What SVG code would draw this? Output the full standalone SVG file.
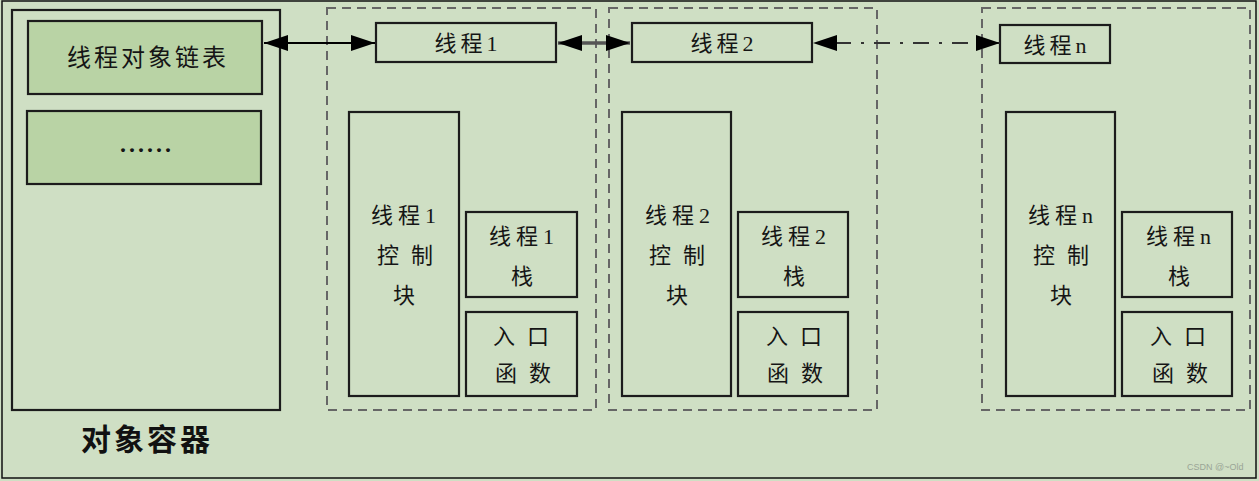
<svg xmlns="http://www.w3.org/2000/svg" width="1259" height="481" viewBox="0 0 1259 481">
<style>
.bg{fill:#CFDFC4}
.box{fill:none;stroke:#1c1c1c;stroke-width:2.2}
.gbox{fill:#B9D3A5;stroke:#1c1c1c;stroke-width:2.2}
.dash{fill:none;stroke:#666;stroke-width:2;stroke-dasharray:9 6}
.t{font-family:"Liberation Serif","Noto Sans CJK SC",serif;font-size:22px;fill:#151515;text-anchor:middle}
.tb{font-family:"Noto Sans CJK SC","Liberation Sans",sans-serif;font-size:30px;font-weight:bold;fill:#111;text-anchor:middle;letter-spacing:3px}
.wm{font-family:"Liberation Sans",sans-serif;font-size:9px;fill:#9aa596}
</style>
<defs>
<marker id="ah" viewBox="0 0 24 16" refX="24" refY="8" markerWidth="24" markerHeight="16" markerUnits="userSpaceOnUse" orient="auto-start-reverse">
<path d="M0,0 L24,8 L0,16 z" fill="#000"/>
</marker>
</defs>
<rect class="bg" x="0" y="0" width="1259" height="481"/>
<rect x="2" y="1" width="1254" height="477" fill="none" stroke="#111" stroke-width="1.5"/>

<g id="container">
<rect class="box" x="12" y="10" width="268" height="400"/>
<text class="tb" x="147" y="450">对象容器</text>
</g>
<g id="list">
<rect class="gbox" x="28" y="21" width="234" height="73"/>
<text class="t" x="148" y="66" style="font-size:24px;letter-spacing:3px">线程对象链表</text>
</g>
<g id="more">
<rect class="gbox" x="27" y="111" width="234" height="73"/>
<text class="t" x="147" y="152" style="font-size:24px;font-weight:bold;letter-spacing:3px">......</text>
</g>

<g id="group1">
<rect class="dash" x="327" y="8" width="269" height="402"/>
</g>
<g id="thread1">
<rect class="box" x="376" y="23" width="180" height="39"/>
<text class="t" x="468" y="51" style="letter-spacing:4px">线程1</text>
</g>
<g id="tcb1">
<rect class="box" x="349" y="112" width="110" height="284"/>
<text class="t" x="406" y="223" style="letter-spacing:5px">线程1</text>
<text class="t" x="411" y="263" style="letter-spacing:12px">控制</text>
<text class="t" x="404" y="303">块</text>
</g>
<g id="stack1">
<rect class="box" x="466" y="212" width="111" height="85"/>
<text class="t" x="524" y="244" style="letter-spacing:5px">线程1</text>
<text class="t" x="522" y="284">栈</text>
</g>
<g id="entry1">
<rect class="box" x="466" y="312" width="111" height="84"/>
<text class="t" x="527" y="344" style="letter-spacing:12px">入口</text>
<text class="t" x="529" y="381" style="letter-spacing:12px">函数</text>
</g>

<g id="group2">
<rect class="dash" x="609" y="8" width="268" height="402"/>
</g>
<g id="thread2">
<rect class="box" x="632" y="23" width="180" height="39"/>
<text class="t" x="724" y="51" style="letter-spacing:4px">线程2</text>
</g>
<g id="tcb2">
<rect class="box" x="622" y="112" width="109" height="284"/>
<text class="t" x="680" y="223" style="letter-spacing:5px">线程2</text>
<text class="t" x="683" y="263" style="letter-spacing:12px">控制</text>
<text class="t" x="677" y="303">块</text>
</g>
<g id="stack2">
<rect class="box" x="738" y="212" width="110" height="85"/>
<text class="t" x="796" y="244" style="letter-spacing:5px">线程2</text>
<text class="t" x="794" y="284">栈</text>
</g>
<g id="entry2">
<rect class="box" x="738" y="312" width="110" height="84"/>
<text class="t" x="800" y="344" style="letter-spacing:12px">入口</text>
<text class="t" x="801" y="381" style="letter-spacing:12px">函数</text>
</g>

<g id="groupn">
<rect class="dash" x="982" y="8" width="268" height="402"/>
</g>
<g id="threadn">
<rect class="box" x="1000" y="25" width="110" height="38"/>
<text class="t" x="1057" y="53" style="letter-spacing:4px">线程n</text>
</g>
<g id="tcbn">
<rect class="box" x="1006" y="112" width="109" height="284"/>
<text class="t" x="1063" y="223" style="letter-spacing:5px">线程n</text>
<text class="t" x="1067" y="263" style="letter-spacing:12px">控制</text>
<text class="t" x="1061" y="303">块</text>
</g>
<g id="stackn">
<rect class="box" x="1122" y="212" width="110" height="85"/>
<text class="t" x="1181" y="244" style="letter-spacing:5px">线程n</text>
<text class="t" x="1179" y="284">栈</text>
</g>
<g id="entryn">
<rect class="box" x="1122" y="312" width="110" height="84"/>
<text class="t" x="1184" y="344" style="letter-spacing:12px">入口</text>
<text class="t" x="1186" y="381" style="letter-spacing:12px">函数</text>
</g>

<g id="connectors">
<line x1="264" y1="43" x2="375" y2="43" stroke="#000" stroke-width="2" marker-start="url(#ah)" marker-end="url(#ah)"/>
<line x1="558" y1="43" x2="630" y2="43" stroke="#555" stroke-width="3.5" marker-start="url(#ah)" marker-end="url(#ah)"/>
<line x1="813" y1="43" x2="1000" y2="43" stroke="#333" stroke-width="2" stroke-dasharray="16 10 3 10" stroke-dashoffset="17" marker-start="url(#ah)" marker-end="url(#ah)"/>
</g>

<text class="wm" x="1187" y="470">CSDN @~Old</text>
</svg>
